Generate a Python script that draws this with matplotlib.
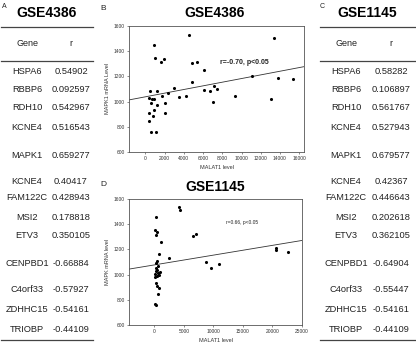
import matplotlib
matplotlib.use("Agg")
import matplotlib.pyplot as plt
import numpy as np

plt.rcParams["font.family"] = ["Liberation Sans", "DejaVu Sans"]

# table data
genes = ["HSPA6", "RBBP6", "RDH10", "KCNE4", "MAPK1", "KCNE4", "FAM122C",
         "MSI2", "ETV3", "CENPBD1", "C4orf33", "ZDHHC15", "TRIOBP"]
r_gse4386 = ["0.54902", "0.092597", "0.542967", "0.516543", "0.659277", "0.40417",
             "0.428943", "0.178818", "0.350105", "-0.66884", "-0.57927", "-0.54161",
             "-0.44109"]
r_gse1145 = ["0.58282", "0.106897", "0.561767", "0.527943", "0.679577", "0.42367",
             "0.446643", "0.202618", "0.362105", "-0.64904", "-0.55447", "-0.54161",
             "-0.44109"]

# scatter B: GSE4386
b_malat1 = [4550, 13350, 870, 1040, 1600, 1910, 4800, 5320, 6050, 4870, 3030, 2330,
            1700, 520, 1180, 350, 730, 940, 590, 2020, 1180, 870, 420, 2020, 770,
            420, 630, 1110, 3480, 4240, 6090, 6710, 7170, 7440, 7030, 9320, 11060,
            13040, 13840, 15370]
b_mapk1 = [1529, 1505, 1450, 1349, 1315, 1339, 1304, 1317, 1251, 1155, 1108, 1071,
           1047, 1087, 1087, 1029, 1024, 1024, 992, 987, 976, 936, 907, 909, 884,
           847, 762, 757, 1034, 1045, 1090, 1082, 1124, 1100, 1000, 1045, 1203,
           1018, 1185, 1177]
b_fit = (1038, 0.0145)  # intercept, slope

# scatter D: GSE1145
d_malat1 = [4150, 4320, 220, 60, 450, 220, 1120, 6560, 7010, 790, 2470, 450, 340,
            670, 220, 450, 220, 950, 670, 110, 790, 450, 110, 220, 450, 790, 670,
            110, 340, 8740, 9530, 10870, 20630, 20680, 22700]
d_mapk = [1537, 1510, 1454, 1351, 1341, 1317, 1256, 1309, 1322, 1161, 1129, 1108,
          1092, 1071, 1055, 1039, 1028, 1023, 1013, 1007, 997, 986, 981, 933, 907,
          891, 849, 767, 761, 1103, 1050, 1084, 1193, 1208, 1182]
d_fit = (1077, 0.00776)

W, H = 416, 344
fig = plt.figure(figsize=(W / 100, H / 100), dpi=100)
TXT = "#222222"


def fx(x):
    return x / W


def fy(y):
    return 1 - y / H


def draw_table(x0, x1, name_x, r_x, title, values, label, label_x):
    fig.text(fx(label_x), fy(7), label, fontsize=5, color=TXT, ha="left", va="center")
    fig.text(fx((x0 + x1) / 2), fy(13), title, fontsize=10, fontweight="bold",
             color="black", ha="center", va="center")
    for yl in (27, 61):
        fig.add_artist(plt.Line2D([fx(x0), fx(x1)], [fy(yl), fy(yl)], color="#444444",
                                  lw=0.9, transform=fig.transFigure))
    fig.add_artist(plt.Line2D([fx(x0), fx(x1)], [fy(340), fy(340)], color="#444444",
                              lw=0.9, transform=fig.transFigure))
    fig.text(fx(name_x), fy(44), "Gene", fontsize=6.5, color=TXT, ha="center", va="center")
    fig.text(fx(r_x), fy(44), "r", fontsize=6.5, color=TXT, ha="center", va="center")
    row_y = [72, 90, 108, 127, 155, 181, 198, 217, 236, 263, 290, 309, 329]
    for g, v, y in zip(genes, values, row_y):
        fig.text(fx(name_x), fy(y), g, fontsize=6.7, color=TXT, ha="center", va="center")
        fig.text(fx(r_x), fy(y), v, fontsize=6.7, color=TXT, ha="center", va="center")


draw_table(1, 93, 27, 71, "GSE4386", r_gse4386, "A", 2)
draw_table(320, 415, 346, 391, "GSE1145", r_gse1145, "C", 320)


def draw_scatter(rect, xs, ys, fit, xlim, xticks, ylabel, title, label, label_y,
                 note, note_xy, note_bold, note_size):
    ax = fig.add_axes(rect)
    ax.scatter(xs, ys, s=5, color="black", zorder=3, linewidths=0)
    xx = np.array(xlim, dtype=float)
    ax.plot(xx, fit[0] + fit[1] * xx, color="#333333", lw=0.6)
    ax.set_xlim(xlim)
    ax.set_ylim(600, 1600)
    ax.set_xticks(xticks)
    ax.set_yticks(range(600, 1601, 200))
    ax.tick_params(labelsize=3.5, length=1.5, width=0.4, pad=1.5, colors="#333333")
    for s in ax.spines.values():
        s.set_linewidth(0.6)
        s.set_color("#555555")
    ax.set_xlabel("MALAT1 level", fontsize=4, color="#333333", labelpad=3)
    ax.set_ylabel(ylabel, fontsize=4, color="#333333", labelpad=3)
    ax.text(*note_xy, note, fontsize=note_size,
            fontweight="bold" if note_bold else "normal", color="#222222")
    fig.text(fx(215), fy(rect_title_y[title]), title, fontsize=10, fontweight="bold",
             ha="center", va="center")
    fig.text(fx(100), fy(label_y), label, fontsize=6, color=TXT, ha="left", va="center")
    return ax


rect_title_y = {"GSE4386": 13, "GSE1145": 187}

draw_scatter([fx(129), fy(152), fx(175), 126 / H], b_malat1, b_mapk1, b_fit,
             (-1700, 16500), range(0, 16001, 2000), "MAPK1 mRNA Level", "GSE4386",
             "B", 8, "r=-0.70, p<0.05", (7750, 1300), True, 5)
draw_scatter([fx(129), fy(325), fx(173), 126 / H], d_malat1, d_mapk, d_fit,
             (-4300, 25000), range(0, 25001, 5000), "MAPK mRNA level", "GSE1145",
             "D", 185, "r=0.66, p<0.05", (12100, 1400), False, 3.5)

fig.savefig("out.png", dpi=100)
